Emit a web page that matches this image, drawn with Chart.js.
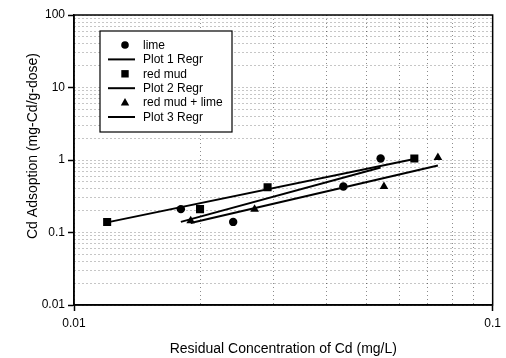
<!DOCTYPE html>
<html>
<head>
<meta charset="utf-8">
<script src="https://cdn.jsdelivr.net/npm/chart.js@4/dist/chart.umd.min.js"></script>
<style>
  html, body { margin: 0; padding: 0; background: #fff; }
</style>
</head>
<body>
<canvas id="chart" width="506" height="358"></canvas>
<script>
// values
const limeX = [0.018, 0.024, 0.044, 0.054];
const limeY = [0.21, 0.14, 0.43, 1.05];
const redMudX = [0.012, 0.020, 0.029, 0.065];
const redMudY = [0.14, 0.21, 0.42, 1.05];
const mixX = [0.019, 0.027, 0.055, 0.074];
const mixY = [0.145, 0.21, 0.43, 1.08];

// regression line end points
const limeRegrX = [0.018, 0.054];
const limeRegrY = [0.14, 0.79];
const redMudRegrX = [0.012, 0.065];
const redMudRegrY = [0.138, 1.03];
const mixRegrX = [0.019, 0.074];
const mixRegrY = [0.135, 0.84];

// labelled ticks
const xTickLabels = [0.01, 0.1];
const yTickLabels = [0.01, 0.1, 1, 10, 100];

const xTitle = 'Residual Concentration of Cd (mg/L)';
const yTitle = 'Cd Adsoption (mg-Cd/g-dose)';

const FONT = "'Liberation Sans', Arial, Helvetica, sans-serif";

function pts(xs, ys) {
    return xs.map((x, i) => ({ x: x, y: ys[i] }));
}

function isLabelled(list, v) {
    return list.some(t => Math.abs(Math.log10(t) - Math.log10(v)) < 1e-6);
}

// minor grid at 1..9 of every decade
function decadeTicks(list) {
    const out = [];
    for (let i = 0; i < list.length - 1; i++) {
        for (let m = 1; m < 10; m++) out.push(list[i] * m);
    }
    out.push(list[list.length - 1]);
    return out;
}

function pointSet(label, xs, ys, style, radius) {
    return {
        label: label, data: pts(xs, ys), showLine: false,
        pointStyle: style, pointRadius: radius, pointHoverRadius: radius,
        backgroundColor: '#000', borderColor: '#000', borderWidth: 0
    };
}

function lineSet(label, xs, ys) {
    return {
        label: label, data: pts(xs, ys), showLine: true,
        pointRadius: 0, borderColor: '#000', borderWidth: 2, fill: false
    };
}

// box legend inside the plot, top left
const boxLegend = {
    id: 'boxLegend',
    afterDraw(chart) {
        const ctx = chart.ctx;
        const x0 = 100, y0 = 31, w = 132, h = 101, step = 14.4;
        ctx.save();
        ctx.fillStyle = '#fff';
        ctx.fillRect(x0, y0, w, h);
        ctx.strokeStyle = '#000';
        ctx.lineWidth = 1.2;
        ctx.strokeRect(x0, y0, w, h);
        ctx.font = '12px ' + FONT;
        ctx.textBaseline = 'middle';
        chart.data.datasets.forEach((ds, i) => {
            const y = y0 + 14 + i * step;
            const cx = x0 + 25;
            ctx.fillStyle = '#000';
            ctx.strokeStyle = '#000';
            if (ds.showLine) {
                ctx.lineWidth = 2;
                ctx.beginPath();
                ctx.moveTo(x0 + 8, y);
                ctx.lineTo(x0 + 35, y);
                ctx.stroke();
            } else if (ds.pointStyle === 'circle') {
                ctx.beginPath();
                ctx.arc(cx, y, 3.8, 0, Math.PI * 2);
                ctx.fill();
            } else if (ds.pointStyle === 'rect') {
                ctx.fillRect(cx - 3.7, y - 3.7, 7.4, 7.4);
            } else {
                ctx.beginPath();
                ctx.moveTo(cx, y - 4.5);
                ctx.lineTo(cx + 4.2, y + 3);
                ctx.lineTo(cx - 4.2, y + 3);
                ctx.closePath();
                ctx.fill();
            }
            ctx.fillText(ds.label, x0 + 43, y + 0.5);
        });
        ctx.restore();
    }
};

// full box round the plot area, plus the rotated y title
const frame = {
    id: 'frame',
    afterDraw(chart) {
        const a = chart.chartArea;
        const ctx = chart.ctx;
        ctx.save();
        ctx.strokeStyle = '#000';
        ctx.lineWidth = 1.5;
        ctx.strokeRect(a.left, a.top, a.right - a.left, a.bottom - a.top);
        ctx.translate(33, 146);
        ctx.rotate(-Math.PI / 2);
        ctx.font = '14px ' + FONT;
        ctx.fillStyle = '#000';
        ctx.textAlign = 'center';
        ctx.textBaseline = 'middle';
        ctx.fillText(yTitle, 0, 0);
        ctx.restore();
    }
};

function logAxis(min, max, labels, isX) {
    const ticksList = decadeTicks(labels);
    return {
        type: 'logarithmic',
        min: min, max: max,
        afterBuildTicks(scale) {
            scale.ticks = ticksList.map(v => ({ value: v, major: isLabelled(labels, v) }));
        },
        afterFit(scale) {
            if (isX) scale.height = 53;
            else scale.width = 74;
        },
        ticks: {
            autoSkip: false, maxRotation: 0, minRotation: 0,
            padding: isX ? 5 : 3,
            color: '#000',
            font: { family: FONT, size: 12 },
            callback: (v) => isLabelled(labels, v) ? String(v) : ''
        },
        grid: {
            color: 'rgba(0,0,0,0.45)',
            lineWidth: 1,
            tickLength: 6,
            tickWidth: 1.5,
            tickBorderDash: [],
            tickColor: (c) => (c.tick && isLabelled(labels, c.tick.value)) ? '#000' : 'rgba(0,0,0,0)'
        },
        border: { display: true, color: '#000', width: 1.5, dash: [1, 3] },
        title: {
            display: isX, text: xTitle, color: '#000',
            font: { family: FONT, size: 14 },
            padding: { top: 0, bottom: 0 }
        }
    };
}

const chart = new Chart(document.getElementById('chart'), {
    type: 'scatter',
    data: {
        datasets: [
            pointSet('lime', limeX, limeY, 'circle', 4.2),
            lineSet('Plot 1 Regr', limeRegrX, limeRegrY),
            pointSet('red mud', redMudX, redMudY, 'rect', 5.7),
            lineSet('Plot 2 Regr', redMudRegrX, redMudRegrY),
            pointSet('red mud + lime', mixX, mixY, 'triangle', 5),
            lineSet('Plot 3 Regr', mixRegrX, mixRegrY)
        ]
    },
    options: {
        responsive: false,
        animation: false,
        devicePixelRatio: 1,
        layout: { padding: { top: 15, right: 9, left: 0, bottom: 0 } },
        plugins: {
            legend: { display: false },
            tooltip: { enabled: false }
        },
        scales: {
            x: logAxis(0.01, 0.1, xTickLabels, true),
            y: logAxis(0.01, 100, yTickLabels, false)
        }
    },
    plugins: [boxLegend, frame]
});
</script>
</body>
</html>
